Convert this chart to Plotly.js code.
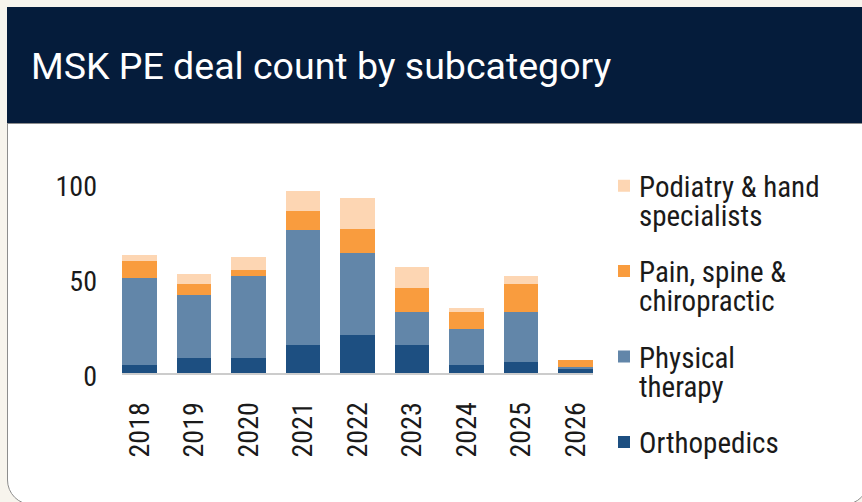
<!DOCTYPE html>
<html>
<head>
<meta charset="utf-8">
<script src="https://cdn.plot.ly/plotly-3.0.1.min.js"></script>
<style>
  html, body { margin: 0; padding: 0; background: #f7f4ed; width: 862px; height: 502px; overflow: hidden; }
  #card { position: absolute; left: 7px; top: 7px; width: 862px; height: 498px; box-sizing: border-box;
          background: #ffffff; border: 1.5px solid #8d8d8d; border-radius: 0 0 25px 25px; }
  #header { position: absolute; left: 7px; top: 7px; width: 855px; height: 116px; background: #051c3b;
            border-bottom: 1.5px solid #8d8d8d; }
  #chart { position: absolute; left: 0; top: 0; width: 862px; height: 502px; }
  .legendtext { font-stretch: 87%; }
  .xtick text, .ytick text { font-stretch: 85%; }
</style>
</head>
<body>
<div id="card"></div>
<div id="header"></div>
<div id="chart"></div>
<script>
const years = ["2018", "2019", "2020", "2021", "2022", "2023", "2024", "2025", "2026"];
const orthopedics = [4, 8, 8, 15, 20, 15, 4, 6, 2];
const physicalTherapy = [46, 33, 43, 60, 43, 17, 19, 26, 1];
const painSpine = [9, 6, 3, 10, 13, 13, 9, 15, 4];
const podiatryHand = [3, 5, 7, 11, 16, 11, 2, 4, 0];

const seriesNames = ["Orthopedics<br>&nbsp;", "Physical<br>therapy", "Pain, spine &<br>chiropractic", "Podiatry & hand<br>specialists"];
const seriesValues = [orthopedics, physicalTherapy, painSpine, podiatryHand];
const seriesColors = ["#1d4f81", "#6286a9", "#f99c3e", "#fdd6b3"];
const seriesRanks = [4, 3, 2, 1];

const FONT = "Roboto Condensed, Roboto, sans-serif";
const LEGEND_SIZE = 29;

const traces = seriesValues.map((vals, i) => ({
  type: "bar",
  x: years,
  y: vals,
  name: seriesNames[i],
  legendgroup: "g" + i,
  legendrank: seriesRanks[i],
  marker: { color: seriesColors[i], line: { width: 0 } },
  hoverinfo: "x+y"
}));

const layout = {
  width: 862,
  height: 502,
  paper_bgcolor: "rgba(0,0,0,0)",
  plot_bgcolor: "rgba(0,0,0,0)",
  barmode: "stack",
  bargap: 0.36,
  margin: { l: 122, r: 269, t: 160, b: 129, pad: 0 },
  title: {
    text: "MSK PE deal count by subcategory",
    font: { family: "Roboto, sans-serif", size: 37.5, color: "#ffffff" },
    xref: "container", yref: "container",
    x: 31 / 862, xanchor: "left",
    y: 1 - 66 / 502, yanchor: "middle"
  },
  xaxis: {
    type: "category",
    range: [-0.32, 8.32],
    showline: true, linecolor: "#cccccc", linewidth: 2,
    showgrid: false, zeroline: false,
    ticks: "",
    tickangle: -90,
    ticklabelstandoff: 16,
    tickfont: { family: FONT, size: 28, color: "#1a1a1a" },
    fixedrange: true
  },
  yaxis: {
    range: [0, 112.1],
    tickvals: [0, 50, 100],
    ticktext: ["0", "50", "100"],
    showline: false, showgrid: false, zeroline: false,
    ticks: "",
    ticklabelstandoff: 24,
    ticklabelshift: 3,
    tickfont: { family: FONT, size: 28, color: "#1a1a1a" },
    fixedrange: true
  },
  legend: {
    xref: "container", yref: "container",
    x: 604 / 862, xanchor: "left",
    y: 1 - 141.5 / 502, yanchor: "top",
    traceorder: "grouped",
    tracegroupgap: 7,
    maxheight: 420,
    font: { family: FONT, size: LEGEND_SIZE, color: "#1a1a1a" },
    bgcolor: "rgba(0,0,0,0)",
    borderwidth: 0
  },
  showlegend: true
};

// Legend text: first line level with the swatch, tighter line spacing, smaller swatch gap
function tidyLegend(gd) {
  gd.querySelectorAll(".legendtext").forEach(t => {
    const fs = parseFloat(t.style.fontSize) || LEGEND_SIZE;
    const y0 = 0.3 * fs * 1.3;
    const x0 = 35;
    t.setAttribute("x", x0);
    t.setAttribute("y", y0);
    t.querySelectorAll("tspan.line").forEach((ln, i) => {
      ln.setAttribute("x", x0);
      ln.setAttribute("y", y0);
      ln.setAttribute("dy", (i * 1.0) + "em");
    });
  });
}

Plotly.newPlot("chart", traces, layout, { displayModeBar: false, staticPlot: true })
  .then(gd => tidyLegend(gd));
</script>
</body>
</html>
